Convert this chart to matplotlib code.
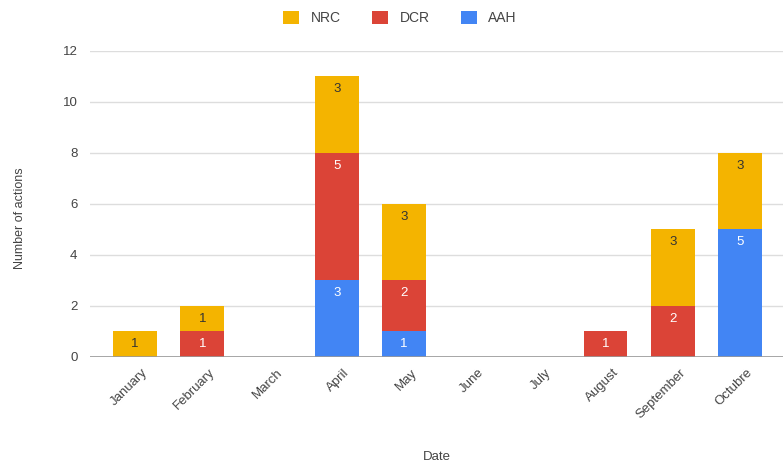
import numpy as np
import matplotlib.pyplot as plt

plt.rcParams['font.family'] = ['Liberation Sans', 'DejaVu Sans']

months = ['January', 'February', 'March', 'April', 'May', 'June', 'July',
          'August', 'September', 'Octubre']
aah = [0, 0, 0, 3, 1, 0, 0, 0, 0, 5]
dcr = [0, 1, 0, 5, 2, 0, 0, 1, 2, 0]
nrc = [1, 1, 0, 3, 3, 0, 0, 0, 3, 3]

colors = {'AAH': '#4285f4', 'DCR': '#db4437', 'NRC': '#f4b400'}
text_colors = {'AAH': 'white', 'DCR': 'white', 'NRC': '#333333'}
grey = '#444444'

fig = plt.figure(figsize=(7.83, 4.72), dpi=100)
ax = fig.add_axes([0.115, 0.244, 0.885, 0.648])

x = np.arange(len(months))
width = 0.65
bottom = np.zeros(len(months))
handles = {}
for name, vals in [('AAH', aah), ('DCR', dcr), ('NRC', nrc)]:
    vals = np.array(vals, dtype=float)
    bars = ax.bar(x, vals, width, bottom=bottom, color=colors[name], zorder=3)
    handles[name] = bars
    for xi, v, b in zip(x, vals, bottom):
        if v > 0:
            ax.text(xi, b + v - 0.5, f'{int(v)}', ha='center', va='center',
                    fontsize=9.5, color=text_colors[name], zorder=4)
    bottom += vals

ax.set_ylim(0, 12)
ax.set_yticks(range(0, 13, 2))
ax.set_xlim(-0.67, 9.64)
ax.set_xticks(x + 0.1)
ax.set_xticklabels(months, rotation=45, ha='right', rotation_mode='anchor',
                   fontsize=9.5, color=grey)
ax.tick_params(axis='y', labelsize=9.5, labelcolor=grey, length=0, pad=9)
ax.tick_params(axis='x', length=0, pad=7)
ax.grid(axis='y', color='#dddddd', linewidth=1, zorder=0)
ax.axhline(0, color='#999999', linewidth=1.2, zorder=5)
for s in ax.spines.values():
    s.set_visible(False)

ax.set_xlabel('Date', fontsize=9.5, color=grey, labelpad=22)
ax.set_ylabel('Number of actions', fontsize=9, color=grey)
ax.yaxis.set_label_coords(-0.092, 0.454)

fig.legend([handles['NRC'], handles['DCR'], handles['AAH']], ['NRC', 'DCR', 'AAH'],
           loc='center', bbox_to_anchor=(0.511, 0.962), ncol=3, frameon=False,
           fontsize=10, handlelength=1.1, handleheight=1.1, columnspacing=2.3,
           handletextpad=0.85, labelcolor=grey)

fig.savefig('out.png', dpi=100)
